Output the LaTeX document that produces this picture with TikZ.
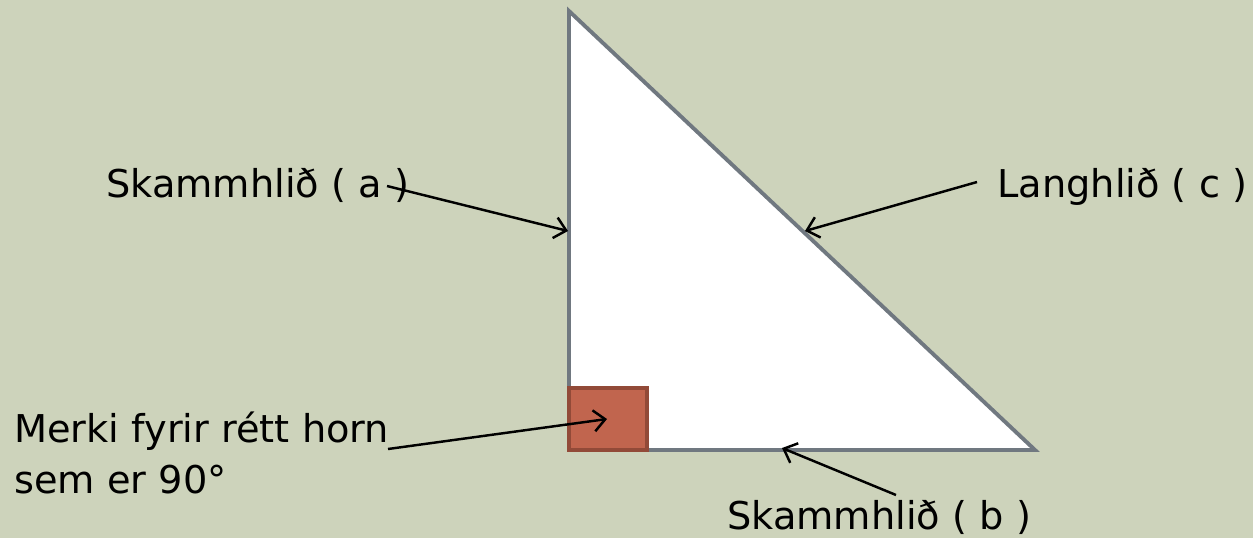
\documentclass[tikz,border=0pt]{standalone}
\usepackage{fontspec}
\setmainfont{DejaVu Sans}
\usetikzlibrary{arrows.meta,positioning,calc}

\definecolor{slidebg}{RGB}{205,211,187}
\definecolor{edgegray}{RGB}{112,120,128}
\definecolor{cornerfill}{RGB}{193,101,78}
\definecolor{cornerline}{RGB}{146,74,56}

\tikzset{
  sidelabel/.style={font=\fontsize{21.8}{28.5}\selectfont, inner sep=0pt},
  pointer/.style={->, line width=1.4pt, black}
}

\begin{document}
\begin{tikzpicture}[x=0.02cm, y=-0.02cm, >={Straight Barb[length=6.5pt,width=12pt]}]
        \fill[slidebg] (0,0) rectangle (1253,538);
        % triangle and right-angle mark
        \draw[edgegray, line width=2.2pt, fill=white, line join=miter] (569,11) -- (569,450) -- (1035,450) -- cycle;
        \draw[cornerline, fill=cornerfill, line width=1.8pt] (569,388) rectangle (647,450);
        % labels
        \node[sidelabel, anchor=base west] (sidea) at (106,197) {Skammhlið ( a )};
        \node[sidelabel, anchor=base west] (sidec) at (997,197) {Langhlið ( c )};
        \node[sidelabel, anchor=base west] (sideb) at (727,529) {Skammhlið ( b )};
        \node[sidelabel, anchor=north west, align=left] (corner) at (14,412) {Merki fyrir rétt horn\\sem er 90°};
        % arrow ends
        \coordinate (atail) at (387,186);
        \coordinate (ahead) at (568,231);
        \coordinate (ctail) at (977,182);
        \coordinate (chead) at (805,231);
        \coordinate (rtail) at (388,449);
        \coordinate (rhead) at (607,419);
        \coordinate (btail) at (896,495);
        \coordinate (bhead) at (782,448);
        \draw[pointer] (atail) -- (ahead);
        \draw[pointer] (ctail) -- (chead);
        \draw[pointer] (rtail) -- (rhead);
        \draw[pointer] (btail) -- (bhead);
\end{tikzpicture}
\end{document}
